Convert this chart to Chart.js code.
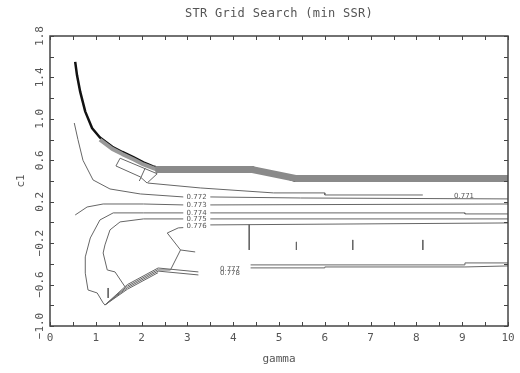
<!DOCTYPE html>
<html>
<head>
<meta charset="utf-8">
<script src="https://cdn.jsdelivr.net/npm/chart.js@4"></script>
<style>
  html, body { margin: 0; padding: 0; background: #fff; }
  #wrap { width: 520px; height: 373px; }
</style>
</head>
<body>
<div id="wrap"><canvas id="chart" width="520" height="373"></canvas></div>
<script>
/* global Chart */

// axis ticks
const gammaTicks = [0, 1, 2, 3, 4, 5, 6, 7, 8, 9, 10]
const c1Ticks = [-1.0, -0.6, -0.2, 0.2, 0.6, 1.0, 1.4, 1.8]

// contour lines, [gamma, c1] pairs
const topCurve = [[0.55, 1.55], [0.59, 1.42], [0.66, 1.26], [0.77, 1.07], [0.92, 0.91], [1.09, 0.82], [1.36, 0.73], [1.58, 0.68], [1.82, 0.63], [2.04, 0.58], [2.25, 0.54], [2.34, 0.53]]
const topShade = [[1.09, 0.80], [1.36, 0.71], [1.58, 0.66], [1.82, 0.61], [2.04, 0.56], [2.34, 0.51]]
const bandMid = [[2.3, 0.51], [4.42, 0.51], [5.36, 0.425], [10, 0.425]]
const bandTop = [[2.25, 0.536], [4.42, 0.536], [5.34, 0.40], [10, 0.40]]
const bandHatch1 = [[4.42, 0.52], [5.34, 0.44]]
const bandHatch2 = [[4.42, 0.49], [5.34, 0.42]]
const boxLine = [[1.53, 0.62], [1.44, 0.545], [1.97, 0.44], [2.12, 0.38], [2.34, 0.47], [1.53, 0.62]]
const boxInner = [[2.08, 0.526], [1.95, 0.40]]
const line771 = [[2.14, 0.38], [3.28, 0.333], [4.88, 0.285], [6.0, 0.285], [6.0, 0.265], [8.14, 0.265]]
const line772a = [[0.53, 0.96], [0.61, 0.80], [0.72, 0.60], [0.94, 0.41], [1.31, 0.323], [1.97, 0.275], [2.91, 0.246]]
const line772b = [[3.5, 0.246], [5.47, 0.236], [10, 0.227]]
const line773a = [[0.55, 0.072], [0.81, 0.149], [1.16, 0.178], [2.04, 0.178], [2.91, 0.169]]
const line773b = [[3.5, 0.169], [10, 0.178]]
const line774a = [[1.20, -0.797], [1.16, -0.777], [1.03, -0.681], [0.83, -0.652], [0.77, -0.49], [0.77, -0.333], [0.88, -0.15], [1.09, 0.024], [1.38, 0.092], [2.04, 0.092], [2.91, 0.092]]
const line774b = [[3.5, 0.092], [9.06, 0.092], [9.06, 0.082], [10, 0.082]]
const line775a = [[1.64, -0.623], [1.42, -0.478], [1.25, -0.459], [1.16, -0.295], [1.20, -0.217], [1.31, -0.072], [1.53, 0.005], [2.04, 0.034], [2.91, 0.034]]
const line775b = [[3.5, 0.034], [10, 0.034]]
const line776a = [[2.91, -0.05], [2.80, -0.053], [2.56, -0.102], [2.85, -0.266], [2.63, -0.459], [2.36, -0.459]]
const line776fork = [[2.85, -0.266], [3.17, -0.285]]
const line776b = [[3.5, -0.024], [10, -0.005]]
const hatchA = [[1.20, -0.797], [1.69, -0.60], [2.36, -0.44], [3.24, -0.478]]
const hatchB = [[1.20, -0.797], [1.69, -0.615], [2.36, -0.455]]
const hatchC = [[1.20, -0.797], [1.69, -0.63], [2.36, -0.47], [3.24, -0.507]]
const hatchD = [[1.20, -0.797], [1.69, -0.645], [2.36, -0.485]]
const line777 = [[4.38, -0.41], [9.06, -0.41], [9.06, -0.391], [10, -0.391]]
const line778 = [[4.38, -0.439], [6.0, -0.439], [6.0, -0.43], [9.06, -0.43], [10, -0.42]]
const stub1 = [[4.35, -0.02], [4.35, -0.266]]
const stub2 = [[5.38, -0.188], [5.38, -0.266]]
const stub3 = [[6.61, -0.169], [6.61, -0.266]]
const stub4 = [[8.14, -0.169], [8.14, -0.266]]
const stub5 = [[1.27, -0.633], [1.27, -0.729]]

// contour labels
const labelText = ['0.771', '0.772', '0.773', '0.774', '0.775', '0.776', '0.777', '0.778']
const labelGamma = [9.04, 3.2, 3.2, 3.2, 3.2, 3.2, 3.93, 3.93]
const labelC1 = [0.256, 0.246, 0.169, 0.092, 0.034, -0.04, -0.455, -0.49]

const thinLines = [boxLine, boxInner, line771, line772a, line772b, line773a, line773b,
  line774a, line774b, line775a, line775b, line776a, line776fork, line776b,
  hatchA, hatchB, hatchC, hatchD, line777, line778, stub1, stub2, stub3, stub4, stub5]

function toPoints (arr) {
  return arr.map(p => ({ x: p[0], y: p[1] }))
}

function lineSet (arr, color, width) {
  return {
    data: toPoints(arr),
    showLine: true,
    borderColor: color,
    borderWidth: width,
    pointRadius: 0,
    tension: 0,
    borderJoinStyle: 'round'
  }
}

const datasets = [
  lineSet(bandMid, '#8a8a8a', 7),
  lineSet(topShade, '#999', 4),
  lineSet(bandTop, '#111', 1.5),
  lineSet(bandHatch1, '#333', 1),
  lineSet(bandHatch2, '#333', 1),
  lineSet(topCurve, '#111', 2.5)
].concat(thinLines.map(l => lineSet(l, '#666', 1)))

const frameAndText = {
  id: 'frameAndText',
  afterDraw (chart) {
    const { ctx, chartArea: a, scales } = chart
    const xs = scales.x
    const ys = scales.y
    ctx.save()

    // contour labels
    ctx.fillStyle = '#555'
    ctx.font = '7px "DejaVu Sans"'
    ctx.textAlign = 'center'
    ctx.textBaseline = 'middle'
    labelText.forEach((t, i) => {
      ctx.fillText(t, xs.getPixelForValue(labelGamma[i]), ys.getPixelForValue(labelC1[i]))
    })

    // frame
    ctx.strokeStyle = '#444'
    ctx.lineWidth = 1.5
    ctx.strokeRect(a.left, a.top, a.right - a.left, a.bottom - a.top)

    // inward ticks
    ctx.lineWidth = 1
    for (let g = 0; g <= 10; g += 0.5) {
      const px = Math.round(xs.getPixelForValue(g)) + 0.5
      ctx.beginPath()
      ctx.moveTo(px, a.bottom); ctx.lineTo(px, a.bottom - 4)
      ctx.moveTo(px, a.top); ctx.lineTo(px, a.top + 4)
      ctx.stroke()
    }
    for (let k = -5; k <= 9; k++) {
      const py = Math.round(ys.getPixelForValue(k * 0.2)) + 0.5
      ctx.beginPath()
      ctx.moveTo(a.left, py); ctx.lineTo(a.left + 4, py)
      ctx.moveTo(a.right, py); ctx.lineTo(a.right - 4, py)
      ctx.stroke()
    }

    // tick labels
    ctx.fillStyle = '#555'
    ctx.font = '11px "DejaVu Sans Mono"'
    ctx.textAlign = 'center'
    ctx.textBaseline = 'middle'
    gammaTicks.forEach(g => {
      ctx.fillText(String(g), xs.getPixelForValue(g), a.bottom + 12)
    })
    c1Ticks.forEach(c => {
      ctx.save()
      ctx.translate(a.left - 10, ys.getPixelForValue(c))
      ctx.rotate(-Math.PI / 2)
      ctx.fillText(c.toFixed(1).replace('-', '\u2212'), 0, 0)
      ctx.restore()
    })

    // axis titles
    ctx.font = '11px "DejaVu Sans Mono"'
    ctx.fillText('gamma', (a.left + a.right) / 2, a.bottom + 33)
    ctx.save()
    ctx.translate(21, (a.top + a.bottom) / 2)
    ctx.rotate(-Math.PI / 2)
    ctx.fillText('c1', 0, 0)
    ctx.restore()

    // title
    ctx.font = '12px "DejaVu Sans Mono"'
    ctx.letterSpacing = '0.3px'
    ctx.fillText('STR Grid Search (min SSR)', (a.left + a.right) / 2, 14)
    ctx.restore()
  }
}

const ctx = document.getElementById('chart').getContext('2d')
new Chart(ctx, {
  type: 'scatter',
  data: { datasets },
  options: {
    responsive: false,
    animation: false,
    layout: { padding: { left: 50, right: 12, top: 36, bottom: 47 } },
    plugins: { legend: { display: false }, tooltip: { enabled: false } },
    scales: {
      x: { type: 'linear', min: 0, max: 10, display: false },
      y: { type: 'linear', min: -1.0, max: 1.8, display: false }
    }
  },
  plugins: [frameAndText]
})
</script>
</body>
</html>
